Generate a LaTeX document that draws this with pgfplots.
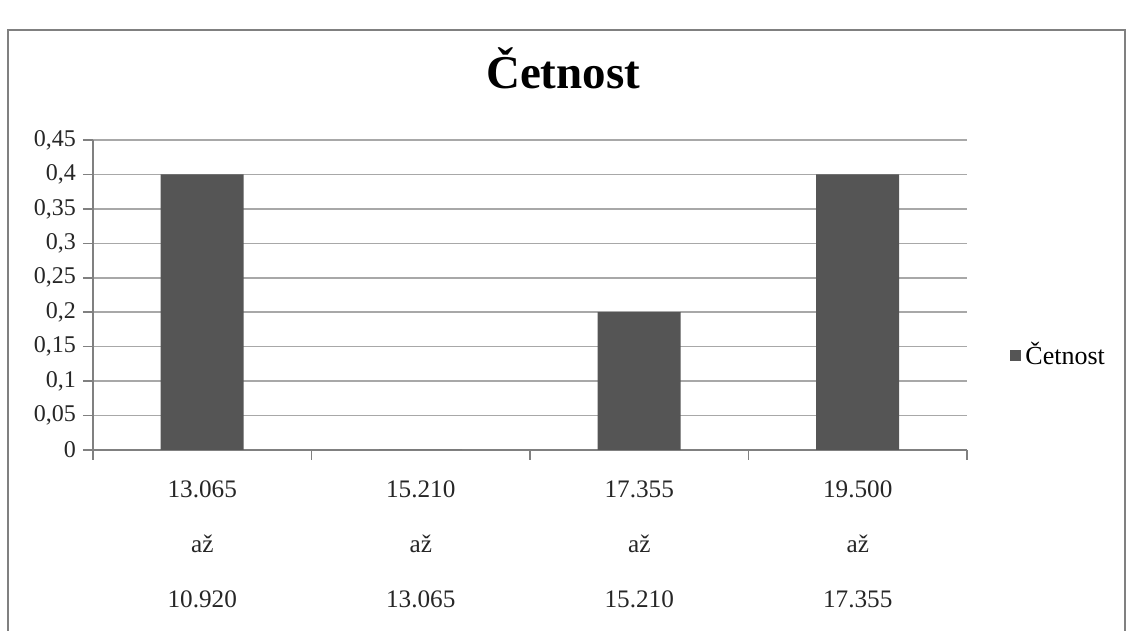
\documentclass[border=0pt]{standalone}
\usepackage{pgfplots}
\pgfplotsset{compat=1.18}
\usepackage{fontspec}
\setmainfont{Liberation Serif}
\definecolor{barcol}{HTML}{555555}
\definecolor{gridcol}{HTML}{A8A8A8}
\definecolor{axiscol}{HTML}{808080}
\begin{document}
\begin{tikzpicture}
\useasboundingbox (-46.5pt,-90.5pt) rectangle (519.5pt,225pt);
\draw[axiscol, line width=0.8pt] (-42.5pt,-95pt) -- (-42.5pt,210pt) -- (516pt,210pt) -- (516pt,-95pt);
\begin{axis}[
  at={(0,0)}, anchor=south west,
  width=437pt, height=155pt, scale only axis,
  ybar, bar width=41.5pt,
  xmin=-0.5, xmax=3.5,
  ymin=0, ymax=0.45,
  scaled ticks=false,
  ytick={0,0.05,0.1,0.15,0.2,0.25,0.3,0.35,0.4,0.45},
  yticklabels={0,{0,05},{0,1},{0,15},{0,2},{0,25},{0,3},{0,35},{0,4},{0,45}},
  xtick={0,1,2,3},
  xticklabels={{13.065\\[12.5pt]až\\[12.5pt]10.920},{15.210\\[12.5pt]až\\[12.5pt]13.065},{17.355\\[12.5pt]až\\[12.5pt]15.210},{19.500\\[12.5pt]až\\[12.5pt]17.355}},
  xticklabel style={align=center, anchor=north, yshift=-7pt, font=\fontsize{12.6}{15}\selectfont},
  xtick style={draw=none},
  extra x ticks={-0.5,0.5,1.5,2.5,3.5},
  extra x tick style={xticklabel={}, grid=none, xtick style={draw=axiscol, line width=0.8pt}},
  tick align=outside,
  major tick length=5pt,
  ytick style={axiscol, line width=0.8pt},
  ymajorgrids, grid style={gridcol, line width=0.8pt},
  axis x line*=bottom, axis y line*=left,
  axis line style={axiscol, line width=0.8pt, -},
  tick label style={text=black!85},
  yticklabel style={font=\fontsize{12}{14}\selectfont},
  title={Četnost},
  title style={at={(0.538,1)}, anchor=center, yshift=30pt, font=\bfseries\fontsize{23.5}{26}\selectfont},
  legend style={at={(1.049,0.306)}, anchor=west, draw=none, fill=none, font=\fontsize{13}{15}\selectfont, inner sep=0pt},
  legend image code/.code={\fill[barcol] (0pt,-2.8pt) rectangle (5.6pt,2.8pt);},
]
\addplot[fill=barcol, draw=none] coordinates {(0,0.4) (1,0) (2,0.2) (3,0.4)};
\addlegendentry{Četnost}
\end{axis}
\end{tikzpicture}
\end{document}
